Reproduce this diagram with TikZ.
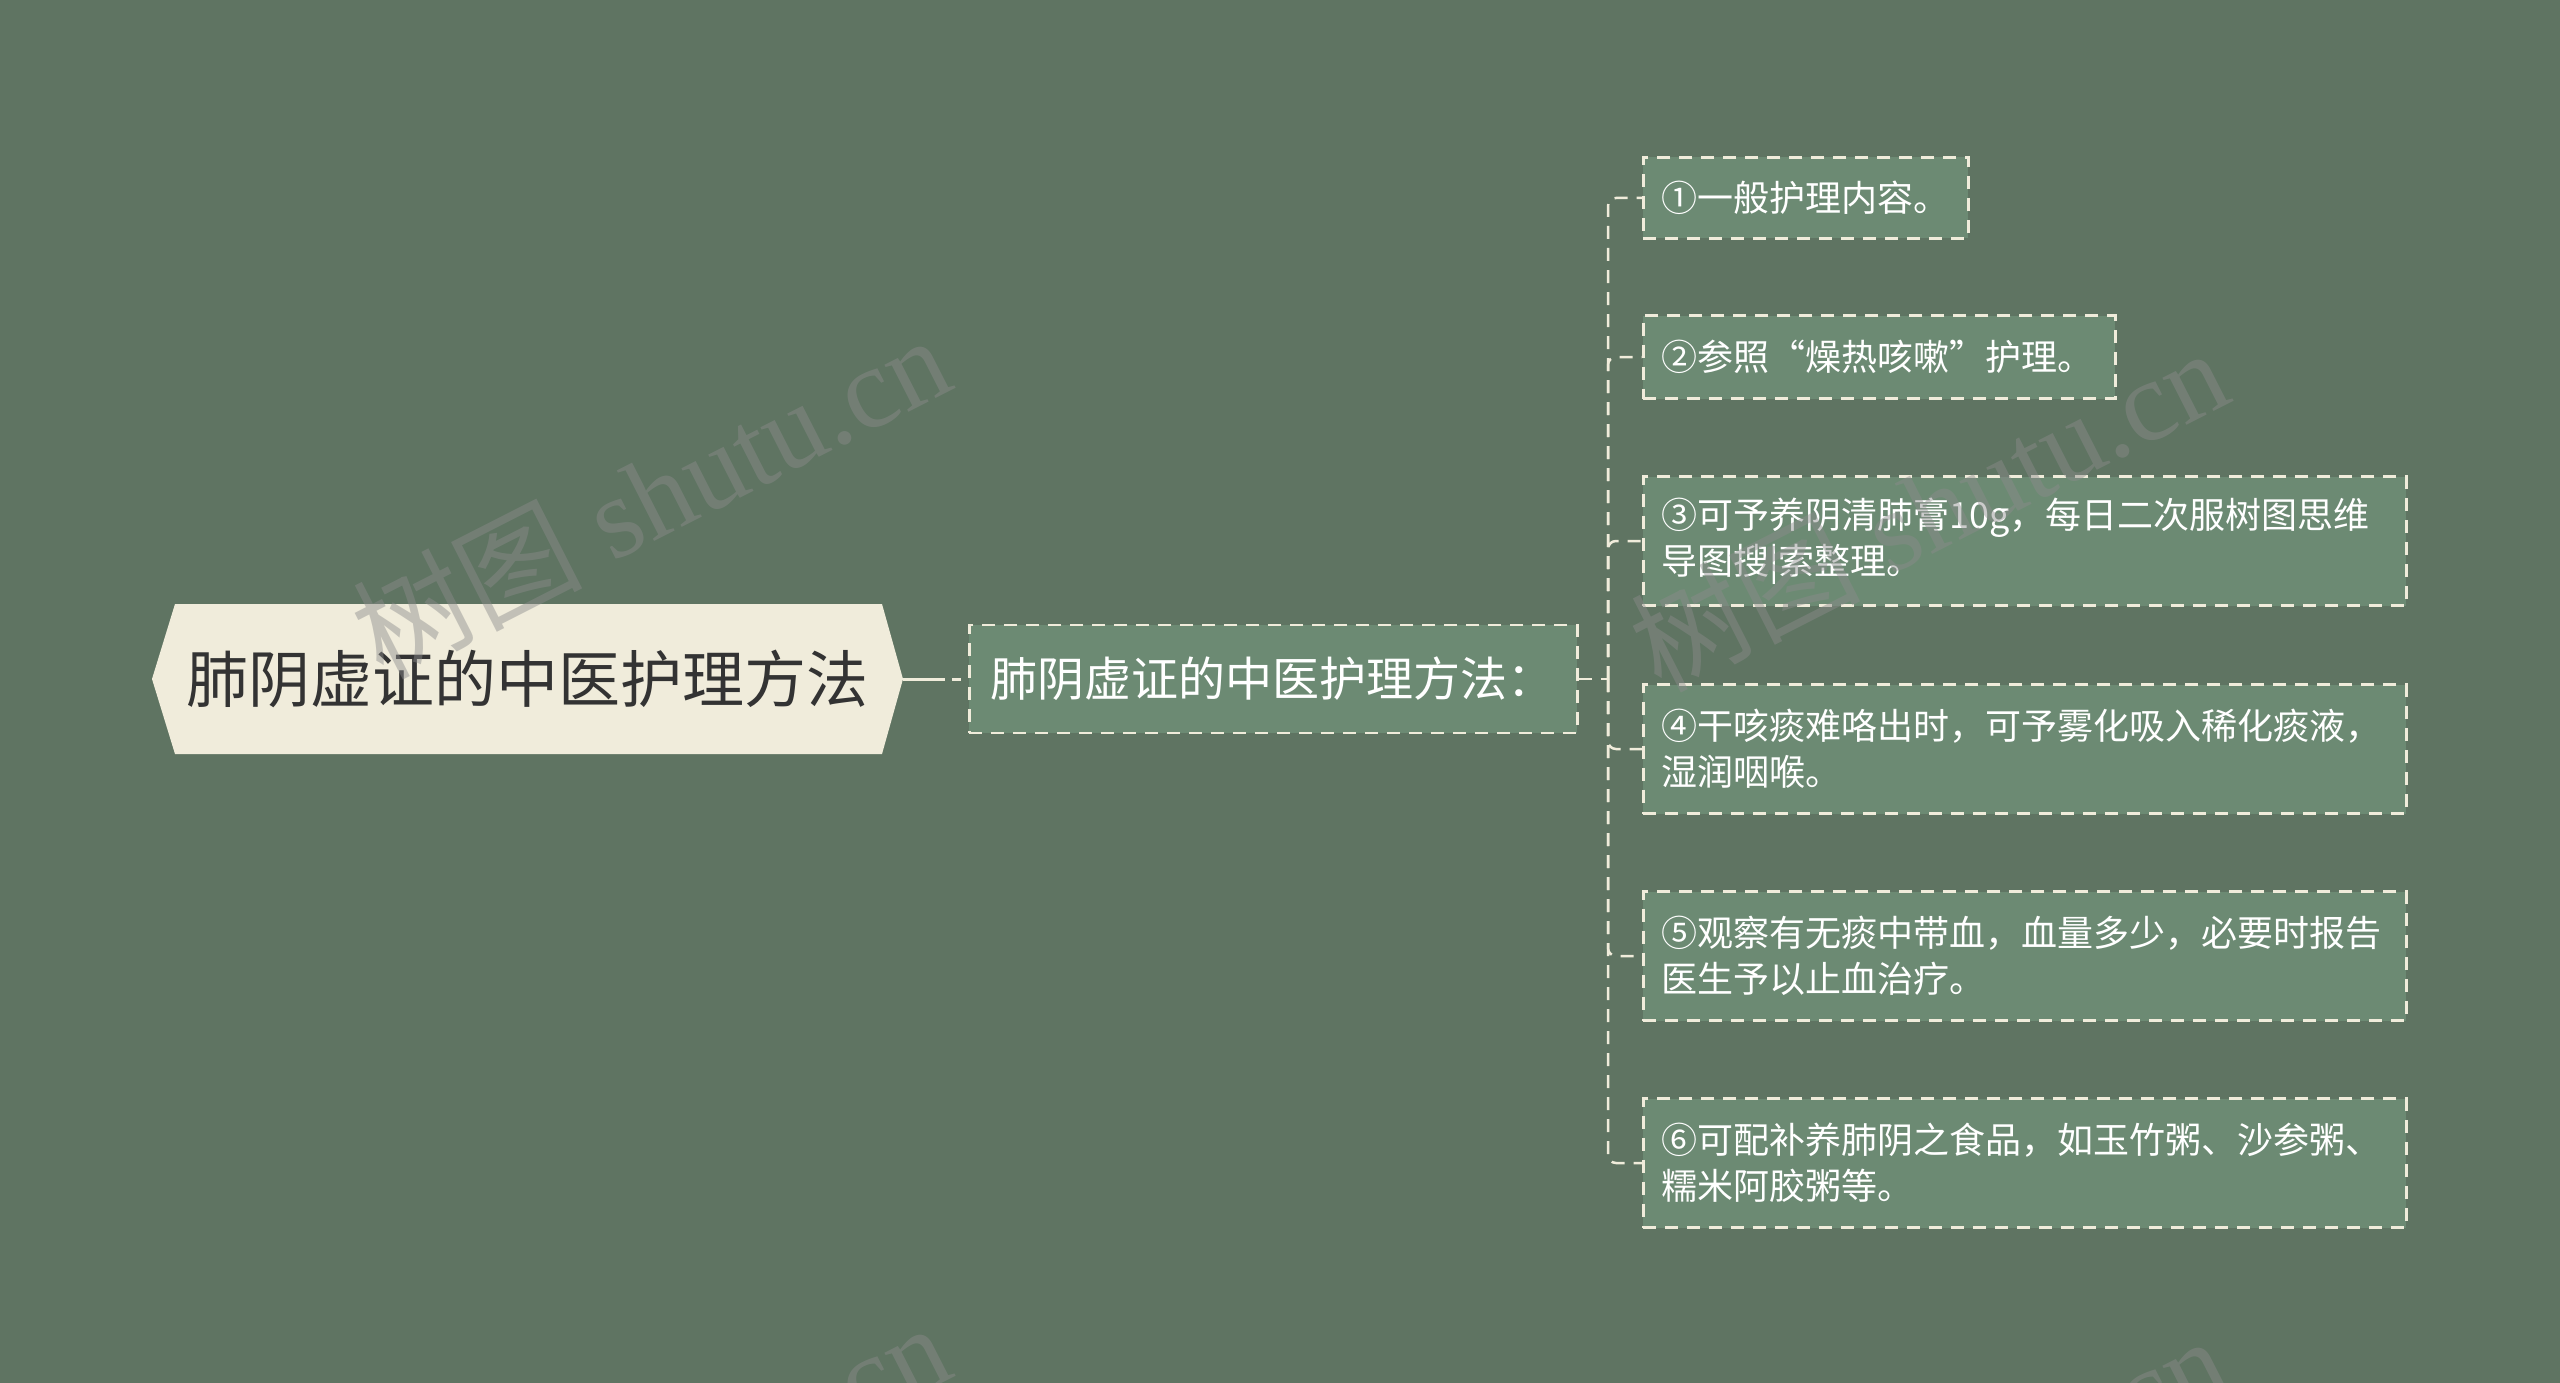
\documentclass[tikz,border=0pt]{standalone}
\usepackage{fontspec}
\setmainfont{Liberation Serif}
\newfontfamily\cjk{Noto Sans CJK SC}
\definecolor{bgcol}{RGB}{95,116,98}
\definecolor{leafcol}{RGB}{108,138,115}
\definecolor{creamcol}{RGB}{240,236,219}
\definecolor{rootink}{RGB}{51,51,51}
\definecolor{wmcol}{RGB}{140,140,140}

\begin{document}
\begin{tikzpicture}[x=1pt,y=-1pt,
  link/.style={draw=creamcol,line width=2.5pt,dash pattern=on 13pt off 9pt},
  rootlink/.style={draw=creamcol,line width=3pt,dash pattern=on 42pt off 7pt on 9pt off 7pt},
  leaf/.style={draw=creamcol,fill=leafcol,line width=2.5pt,dash pattern=on 13pt off 9pt,anchor=west,inner xsep=18pt,inner ysep=0pt,text=white,align=left,text width=#1,font=\cjk\fontsize{36}{46}\selectfont},
  midbox/.style={draw=creamcol,fill=leafcol,line width=2.5pt,dash pattern=on 13pt off 9pt,anchor=west,inner xsep=21pt,inner ysep=0pt,text=white,align=left,text width=566pt,minimum height=108pt,font=\cjk\fontsize{47}{54}\selectfont},
  wmark/.style={text=wmcol,text opacity=0.45,font=\fontsize{115}{115}\selectfont,rotate=27}]
\useasboundingbox (0,0) rectangle (2560,1383);
\fill[bgcol] (0,0) rectangle (2560,1383);

\fill[creamcol] (152,679) -- (175,604) -- (882,604) -- (903,679) -- (882,754) -- (175,754) -- cycle;
\node[text=rootink,font=\cjk\fontsize{62}{70}\selectfont] (root) at (527,679) {肺阴虚证的中医护理方法};
\coordinate (rootR) at (903,679);

\node[midbox] (mid) at (968,679) {肺阴虚证的中医护理方法：};
\coordinate (trunk) at (1608,679);

\node[leaf=289pt,minimum height=81pt] (l1) at (1642,198) {①一般护理内容。};
\node[leaf=436pt,minimum height=83pt] (l2) at (1642,357) {②参照“燥热咳嗽”护理。};
\node[leaf=727pt,minimum height=129pt] (l3) at (1642,541) {③可予养阴清肺膏10g，每日二次服树图思维\\导图搜|索整理。};
\node[leaf=727pt,minimum height=129pt] (l4) at (1642,749) {④干咳痰难咯出时，可予雾化吸入稀化痰液，\\湿润咽喉。};
\node[leaf=727pt,minimum height=129pt] (l5) at (1642,956) {⑤观察有无痰中带血，血量多少，必要时报告\\医生予以止血治疗。};
\node[leaf=727pt,minimum height=129pt] (l6) at (1642,1163) {⑥可配补养肺阴之食品，如玉竹粥、沙参粥、\\糯米阿胶粥等。};

\draw[rootlink] (rootR) -- (mid.west);
\draw[link] (mid.east) -- (trunk);
\foreach \n in {l1,l2,l3,l4,l5,l6}
  \draw[link,rounded corners=8pt] (trunk) |- (\n.west);

\begin{scope}
\clip (0,0) rectangle (2560,1383);
\node[wmark] (wm1) at (650,495) {{\cjk 树图} shutu.cn};
\node[wmark] (wm2) at (1928,508) {{\cjk 树图} shutu.cn};
\node[wmark] (wm3) at (650,1483) {{\cjk 树图} shutu.cn};
\node[wmark] (wm4) at (1928,1496) {{\cjk 树图} shutu.cn};
\end{scope}
\end{tikzpicture}
\end{document}
